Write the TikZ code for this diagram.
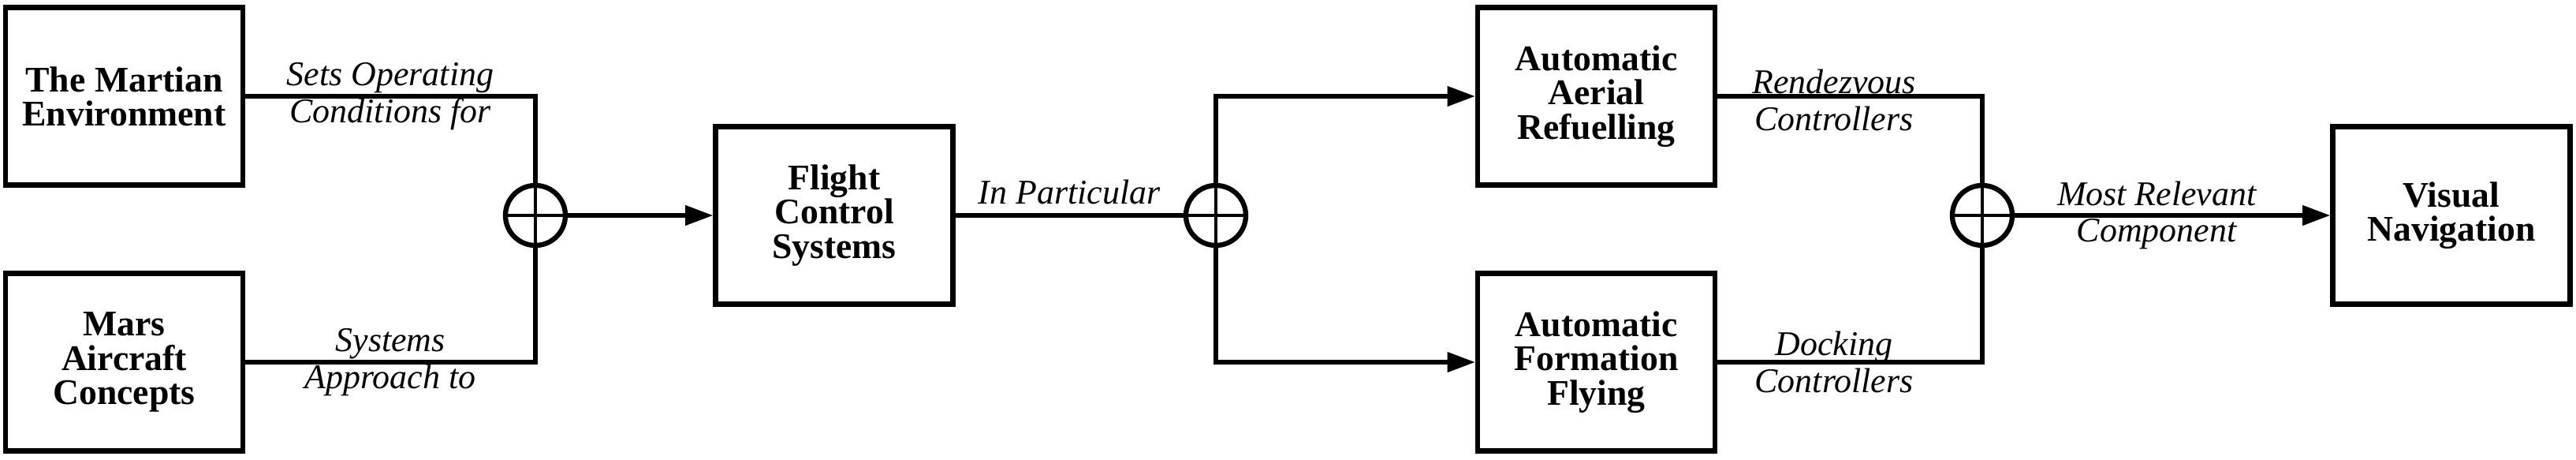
\documentclass[tikz,border=0pt]{standalone}
\usepackage{fontspec}
\setmainfont{Liberation Serif}
\usetikzlibrary{arrows.meta}
\begin{document}
\begin{tikzpicture}[line width=1.5pt,
  block/.style={draw,line width=1.8pt,minimum width=3.01cm,minimum height=2.25cm,align=center,font=\bfseries\fontsize{13}{12.3}\selectfont},
  sumnode/.style={draw,circle,line width=1.8pt,minimum size=0.76cm,inner sep=0pt},
  lbl/.style={align=center,font=\itshape\fontsize{12.5}{13.3}\selectfont},
  >={Triangle[length=10pt,width=7pt]}]
\useasboundingbox (0,0) rectangle (32.67,5.82);
\node[block] (env) at (1.575,4.6) {The Martian\\Environment};
\node[block] (mac) at (1.575,1.23) {Mars\\Aircraft\\Concepts};
\node[sumnode] (s1) at (6.79,3.09) {};
\node[block] (fcs) at (10.58,3.09) {Flight\\Control\\Systems};
\node[sumnode] (s2) at (15.42,3.09) {};
\node[block] (aar) at (20.245,4.6) {Automatic\\Aerial\\Refuelling};
\node[block] (aff) at (20.245,1.23) {Automatic\\Formation\\Flying};
\node[sumnode] (s3) at (25.14,3.09) {};
\node[block] (vn) at (31.09,3.09) {Visual\\Navigation};
% crosses in the summing points
\draw[line width=1.2pt] (s1.north)--(s1.south) (s1.west)--(s1.east);
\draw[line width=1.2pt] (s2.north)--(s2.south) (s2.west)--(s2.east);
\draw[line width=1.2pt] (s3.north)--(s3.south) (s3.west)--(s3.east);
% inputs
\draw (env.east)--node[lbl]{Sets Operating\\Conditions for}(env.east-|s1)--(s1.north);
\draw (mac.east)--node[lbl]{Systems\\Approach to}(mac.east-|s1)--(s1.south);
\draw[->] (s1.east)--(fcs.west);
\draw (fcs.east)--node[lbl,above]{In Particular}(s2.west);
\draw[->] (s2.north)|-(aar.west);
\draw[->] (s2.south)|-(aff.west);
\draw (aar.east)--node[lbl,xshift=-0.2cm,yshift=-0.05cm]{Rendezvous\\Controllers}(aar.east-|s3)--(s3.north);
\draw (aff.east)--node[lbl,xshift=-0.2cm]{Docking\\Controllers}(aff.east-|s3)--(s3.south);
\draw[->] (s3.east)--node[lbl,xshift=-0.2cm]{Most Relevant\\Component}(vn.west);
\end{tikzpicture}
\end{document}
